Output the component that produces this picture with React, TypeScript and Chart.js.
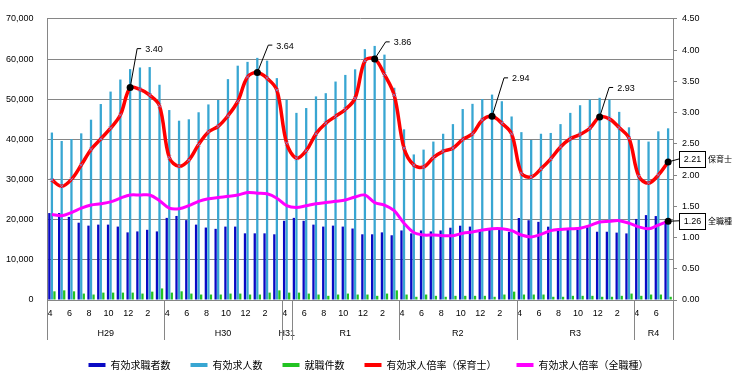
import React, { useEffect, useRef } from 'react';
import { Chart, registerables } from 'chart.js';

Chart.register(...registerables);

// ---- data ----
const months = [
  4, 5, 6, 7, 8, 9, 10, 11, 12, 1, 2, 3,
  4, 5, 6, 7, 8, 9, 10, 11, 12, 1, 2, 3,
  4, 5, 6, 7, 8, 9, 10, 11, 12, 1, 2, 3,
  4, 5, 6, 7, 8, 9, 10, 11, 12, 1, 2, 3,
  4, 5, 6, 7, 8, 9, 10, 11, 12, 1, 2, 3,
  4, 5, 6, 7,
];
const fiscalYears = ['H29', 'H30', 'H31', 'R1', 'R2', 'R3', 'R4'];
const fiscalYearMonths = [12, 12, 1, 11, 12, 12, 4];

const seriesNames = ['有効求職者数', '有効求人数', '就職件数', '有効求人倍率（保育士）', '有効求人倍率（全職種）'];

const jobSeekers = [
  21650, 21650, 20690, 19250, 18520, 18770, 18770, 18280, 16840, 17080, 17480, 17080,
  20450, 20930, 19890, 18770, 18040, 17720, 18280, 18280, 16600, 16600, 16600, 16360,
  19730, 20450, 19730, 18770, 18280, 18520, 18280, 17800, 16360, 16360, 16840, 16120,
  17320, 16600, 17320, 17080, 17320, 18000, 18500, 18280, 17500, 17440, 17600, 16960,
  20420, 19860, 19460, 18260, 17440, 17440, 17440, 18150, 17000, 17000, 16780, 16580,
  20180, 21140, 20900, 19300,
];
const jobOffers = [
  41700, 39600, 40100, 41500, 44900, 48800, 51900, 54900, 57500, 57900, 58000, 53600,
  47300, 44650, 45000, 46750, 48700, 49800, 55000, 58350, 59300, 60300, 59600, 55250,
  49900, 46600, 47800, 50700, 51500, 54400, 56050, 57450, 62470, 63270, 61100, 52850,
  42500, 36250, 37450, 39450, 41400, 43800, 47550, 48850, 50050, 51150, 49500, 45700,
  41800, 39850, 41400, 41600, 43800, 46600, 48500, 49900, 50350, 49900, 46850, 43000,
  39850, 39450, 42000, 42750,
];
const placements = [
  2160, 2400, 2160, 1600, 1360, 1840, 1840, 1840, 1840, 1600, 2080, 2880,
  1840, 2160, 1600, 1360, 1360, 1360, 1600, 1600, 1360, 1360, 1840, 2400,
  1840, 1840, 1600, 1360, 1040, 1360, 1600, 1360, 1360, 1040, 1600, 2400,
  1360, 800, 1360, 1040, 800, 1040, 1040, 1040, 1040, 800, 1360, 2080,
  1360, 1360, 1360, 800, 800, 1040, 1040, 1040, 800, 800, 1040, 1600,
  1040, 1360, 1360, 800,
];
const ratioNursery = [
  1.92, 1.82, 1.93, 2.16, 2.41, 2.58, 2.75, 2.96, 3.40, 3.37, 3.28, 3.11,
  2.28, 2.14, 2.24, 2.49, 2.69, 2.78, 2.95, 3.18, 3.57, 3.64, 3.55, 3.36,
  2.51, 2.27, 2.39, 2.66, 2.83, 2.94, 3.05, 3.23, 3.83, 3.86, 3.61, 3.28,
  2.43, 2.16, 2.13, 2.28, 2.38, 2.43, 2.57, 2.66, 2.88, 2.94, 2.83, 2.66,
  2.03, 1.97, 2.10, 2.26, 2.45, 2.58, 2.65, 2.75, 2.93, 2.90, 2.76, 2.59,
  1.98, 1.87, 2.00, 2.21,
];
const ratioAll = [
  1.37, 1.35, 1.40, 1.47, 1.52, 1.54, 1.57, 1.63, 1.68, 1.68, 1.68, 1.59,
  1.47, 1.46, 1.51, 1.58, 1.62, 1.64, 1.66, 1.68, 1.72, 1.71, 1.70, 1.63,
  1.51, 1.48, 1.51, 1.54, 1.56, 1.58, 1.60, 1.65, 1.68, 1.56, 1.52, 1.43,
  1.23, 1.08, 1.04, 1.04, 1.03, 1.03, 1.07, 1.09, 1.12, 1.14, 1.14, 1.11,
  1.04, 1.01, 1.05, 1.11, 1.13, 1.14, 1.15, 1.19, 1.25, 1.26, 1.27, 1.23,
  1.17, 1.14, 1.20, 1.26,
];
const calloutIndices = [8, 21, 33, 45, 56];
const endLabelNames = ['保育士', '全職種'];

// ---- styles ----
const seriesColors = ['#0a0ac4', '#38a6d2', '#22c322', '#ff0000', '#ff00ff'];
const AXIS_COLOR = '#868686';
const NUM_FONT = '"Liberation Sans", Arial, sans-serif';
const CJK_FONT = '"Noto Sans CJK JP", sans-serif';
const calloutOffsets = [[7, -39], [11, -27.5], [11, -17], [12, -38.5], [9.5, -29.5]];
const endLabelOffsets = [-3, -0.5];

const overlayPlugin = {
  id: 'overlay',
  afterDraw(chart: any) {
    const { ctx, chartArea: area } = chart;
    const xs = chart.scales.x;
    const half = (xs.getPixelForValue(1) - xs.getPixelForValue(0)) / 2;
    ctx.save();
    // fiscal year groups on the category axis
    ctx.strokeStyle = AXIS_COLOR;
    ctx.lineWidth = 1;
    ctx.fillStyle = '#000';
    ctx.font = `9px ${NUM_FONT}`;
    ctx.textAlign = 'center';
    ctx.textBaseline = 'middle';
    let start = 0;
    const edges: number[] = [];
    fiscalYearMonths.forEach((n, gi) => {
      const x0 = xs.getPixelForValue(start) - half;
      const x1 = xs.getPixelForValue(start + n - 1) + half;
      if (gi === 0) edges.push(x0);
      edges.push(x1);
      ctx.fillText(fiscalYears[gi], (x0 + x1) / 2, area.bottom + 34);
      start += n;
    });
    edges.forEach((x) => {
      const px = Math.round(x) + 0.5;
      ctx.beginPath();
      ctx.moveTo(px, area.bottom);
      ctx.lineTo(px, area.bottom + 40);
      ctx.stroke();
    });

    // peak callouts on the nursery ratio line
    const redMeta = chart.getDatasetMeta(3);
    ctx.strokeStyle = '#000';
    ctx.fillStyle = '#000';
    ctx.textAlign = 'left';
    calloutIndices.forEach((idx, k) => {
      const p = redMeta.data[idx];
      const [dx, dy] = calloutOffsets[k];
      const ex = p.x + dx;
      const ey = p.y + dy;
      ctx.beginPath();
      ctx.moveTo(p.x, p.y);
      ctx.lineTo(ex, ey);
      ctx.lineTo(ex + 4, ey);
      ctx.stroke();
      ctx.beginPath();
      ctx.arc(p.x, p.y, 3.5, 0, Math.PI * 2);
      ctx.fill();
      ctx.fillText(ratioNursery[idx].toFixed(2), ex + 8, ey + 1);
    });

    // end-of-line boxed labels
    [ratioNursery, ratioAll].forEach((vals, k) => {
      const meta = chart.getDatasetMeta(3 + k);
      const last = vals.length - 1;
      const p = meta.data[last];
      const bx = p.x + 11;
      const by = p.y + endLabelOffsets[k];
      ctx.strokeStyle = '#000';
      ctx.fillStyle = '#000';
      ctx.beginPath();
      ctx.moveTo(p.x, p.y);
      ctx.lineTo(bx, by);
      ctx.stroke();
      ctx.beginPath();
      ctx.arc(p.x, p.y, 3.5, 0, Math.PI * 2);
      ctx.fill();
      ctx.fillStyle = '#fff';
      ctx.fillRect(Math.round(bx) + 0.5, Math.round(by - 8) + 0.5, 26, 16);
      ctx.strokeRect(Math.round(bx) + 0.5, Math.round(by - 8) + 0.5, 26, 16);
      ctx.fillStyle = '#000';
      ctx.font = `9px ${NUM_FONT}`;
      ctx.textAlign = 'center';
      ctx.fillText(vals[last].toFixed(2), bx + 13.5, by + 1);
      ctx.font = `8px ${CJK_FONT}`;
      ctx.textAlign = 'left';
      ctx.fillText(endLabelNames[k], bx + 29, by + 0.5);
      ctx.font = `9px ${NUM_FONT}`;
    });
    ctx.restore();
  },
};

export default function App() {
  const canvasRef = useRef<HTMLCanvasElement | null>(null);

  useEffect(() => {
    if (!canvasRef.current) return;
    Chart.defaults.font.family = NUM_FONT;
    Chart.defaults.font.size = 9;
    Chart.defaults.color = '#000';

    const barCommon = {
      type: 'bar' as const,
      yAxisID: 'y',
      categoryPercentage: 0.78,
      barPercentage: 0.9,
      borderWidth: 0,
      order: 3,
    };

    const chart = new Chart(canvasRef.current, {
      type: 'bar',
      data: {
        labels: months.map(String),
        datasets: [
          { ...barCommon, label: seriesNames[0], data: jobSeekers, backgroundColor: seriesColors[0] },
          { ...barCommon, label: seriesNames[1], data: jobOffers, backgroundColor: seriesColors[1] },
          { ...barCommon, label: seriesNames[2], data: placements, backgroundColor: seriesColors[2] },
          {
            type: 'line' as const,
            label: seriesNames[3],
            data: ratioNursery,
            yAxisID: 'y1',
            borderColor: seriesColors[3],
            backgroundColor: seriesColors[3],
            borderWidth: 3.5,
            tension: 0.35,
            pointStyle: 'crossRot',
            pointRadius: 2.5,
            pointBorderColor: '#8c7cc0',
            pointBackgroundColor: 'rgba(0,0,0,0)',
            pointBorderWidth: 1,
            order: 1,
          },
          {
            type: 'line' as const,
            label: seriesNames[4],
            data: ratioAll,
            yAxisID: 'y1',
            borderColor: seriesColors[4],
            backgroundColor: seriesColors[4],
            borderWidth: 3,
            tension: 0.35,
            pointRadius: 0,
            order: 2,
          },
        ] as any,
      },
      options: {
        responsive: false,
        animation: false,
        layout: { padding: { top: 8, left: 0, right: 0, bottom: 0 } },
        plugins: {
          tooltip: { enabled: false },
          legend: {
            position: 'bottom',
            maxHeight: 35,
            labels: {
              boxWidth: 17,
              boxHeight: 4,
              padding: 20,
              color: '#000',
              font: { family: CJK_FONT, size: 10 },
              generateLabels: (c: any) =>
                c.data.datasets.map((ds: any, i: number) => ({
                  text: ds.label,
                  fillStyle: seriesColors[i],
                  strokeStyle: seriesColors[i],
                  lineWidth: 0,
                  hidden: false,
                  datasetIndex: i,
                  fontColor: '#000',
                })),
            },
          },
        },
        scales: {
          x: {
            grid: { display: false, drawTicks: false },
            border: { display: true, color: AXIS_COLOR },
            ticks: {
              autoSkip: false,
              maxRotation: 0,
              minRotation: 0,
              padding: 8.5,
              labelOffset: -2,
              font: { size: 9 },
              callback: (_v: any, i: number) => (i % 2 === 0 ? String(months[i]) : ''),
            },
            afterFit: (s: any) => { s.height = 40; },
          },
          y: {
            position: 'left',
            min: 0,
            max: 70000,
            grid: { color: AXIS_COLOR, lineWidth: 1, drawTicks: false },
            border: { display: true, color: AXIS_COLOR },
            ticks: {
              stepSize: 10000,
              padding: 13.5,
              font: { size: 9 },
              callback: (v: any) => Number(v).toLocaleString('en-US'),
            },
            afterFit: (s: any) => { s.width = 47; },
          },
          y1: {
            position: 'right',
            min: 0,
            max: 4.5,
            grid: { drawOnChartArea: false, drawTicks: true, tickLength: 4, color: AXIS_COLOR },
            border: { display: true, color: AXIS_COLOR },
            ticks: {
              stepSize: 0.5,
              padding: 5,
              font: { size: 9 },
              callback: (v: any) => Number(v).toFixed(2),
            },
            afterFit: (s: any) => { s.width = 64; },
          },
        },
      },
      plugins: [overlayPlugin],
    } as any);

    return () => chart.destroy();
  }, []);

  return (
    <div style={{ position: 'absolute', left: 0, top: 0, width: 737, height: 375, background: '#fff' }}>
      <canvas ref={canvasRef} width={737} height={375} style={{ display: 'block' }} />
    </div>
  );
}
